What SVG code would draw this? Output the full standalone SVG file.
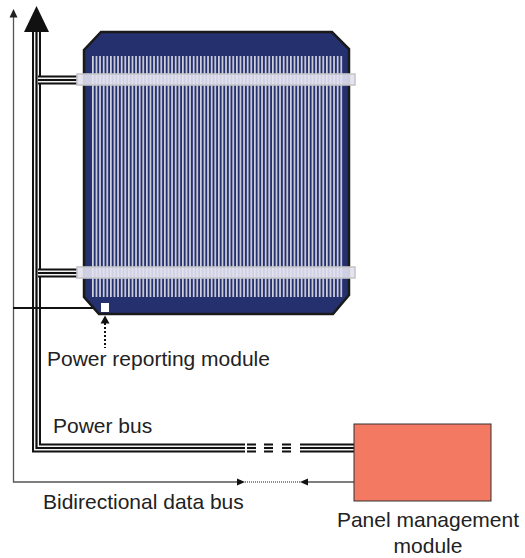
<svg xmlns="http://www.w3.org/2000/svg" width="525" height="558" viewBox="0 0 525 558">
  <defs>
    <style>
      .lbl { font-family: "Liberation Sans", Arial, sans-serif; font-size: 21px; fill: #222; }
      .busOuter { fill: none; stroke: #111; stroke-width: 9; stroke-linejoin: miter; }
      .busGap { fill: none; stroke: #f4f4f4; stroke-width: 5; stroke-linejoin: miter; }
      .busCore { fill: none; stroke: #111; stroke-width: 2.2; stroke-linejoin: miter; }
      .thin { fill: none; stroke: #555; stroke-width: 1.3; }
      .busbar { fill: #e2e2f0; fill-opacity: 0.9; stroke: #c6c6ca; stroke-width: 1.6; }
    </style>
    <pattern id="fingers" x="92" y="0" width="3.6" height="10" patternUnits="userSpaceOnUse">
      <rect x="0" y="0" width="1.7" height="10" fill="#d0d1dc"/>
    </pattern>
  </defs>

  <rect width="525" height="558" fill="#ffffff"/>

  <!-- connectors -->
  <g id="connectors">
    <!-- bidirectional data bus (thin line up the left side) -->
    <path class="thin" d="M13.5,16 V482 H238"/>
    <polygon points="9.5,17.5 17.5,17.5 13.5,9" fill="#222"/>
    <polygon points="237,478.5 237,485.5 245,482" fill="#111"/>
    <line x1="245" y1="482" x2="300" y2="482" stroke="#666" stroke-width="1.3" stroke-dasharray="1 1"/>
    <polygon points="308,478.5 308,485.5 300,482" fill="#111"/>
    <line class="thin" x1="308" y1="482" x2="354" y2="482"/>

    <!-- power bus: vertical trunk and run to the management module -->
    <path class="busOuter" d="M36.5,32 V448 H245"/>
    <path class="busGap" d="M36.5,32 V448 H245"/>
    <path class="busCore" d="M36.5,32 V448 H245"/>
    <polygon points="24,32 49,32 36.5,6" fill="#111"/>

    <!-- broken section of the power bus -->
    <g>
      <path class="busOuter" d="M247,448 H256 M264,448 H273 M282,448 H291 M300,448 H354"/>
      <path class="busGap" d="M247,448 H256 M264,448 H273 M282,448 H291 M300,448 H354"/>
      <path class="busCore" d="M247,448 H256 M264,448 H273 M282,448 H291 M300,448 H354"/>
    </g>

    <!-- taps from the trunk to the two busbars -->
    <path class="busOuter" d="M38,80 H78 M38,273 H78"/>
    <path class="busGap" d="M38,80 H78 M38,273 H78"/>
    <path class="busCore" d="M38,80 H78 M38,273 H78"/>

    <!-- reporting line -->
    <line x1="13" y1="308" x2="93" y2="308" stroke="#111" stroke-width="2"/>

    <!-- dotted pointer to the reporting module -->
    <line x1="105" y1="323" x2="105" y2="348" stroke="#111" stroke-width="2" stroke-dasharray="2 2"/>
    <polygon points="100.5,323.5 109.5,323.5 105,315.5" fill="#111"/>
  </g>

  <!-- solar cell -->
  <g id="solar-cell">
    <path d="M101,32 H332 L349,49 V295 L333,314 H99 L84,297 V50 Z" fill="#25306f" stroke="#1a1a1a" stroke-width="2.5"/>
    <rect x="92" y="56" width="251" height="241" fill="url(#fingers)"/>
    <rect class="busbar" x="77" y="74" width="278" height="11"/>
    <rect class="busbar" x="77" y="267" width="278" height="11"/>
  </g>

  <!-- power reporting module -->
  <g id="power-reporting-module">
    <rect x="101" y="303" width="8" height="9" fill="#ffffff"/>
    <text class="lbl" x="47" y="366">Power reporting module</text>
  </g>

  <!-- power bus label -->
  <g id="power-bus-label">
    <text class="lbl" x="53" y="433">Power bus</text>
  </g>

  <!-- data bus label -->
  <g id="data-bus-label">
    <text class="lbl" x="43" y="509">Bidirectional data bus</text>
  </g>

  <!-- panel management module -->
  <g id="panel-management-module">
    <rect x="354" y="424" width="137" height="77" fill="#f47962" stroke="#333" stroke-width="1"/>
    <text class="lbl" x="428" y="527" text-anchor="middle">Panel management</text>
    <text class="lbl" x="428" y="553" text-anchor="middle">module</text>
  </g>
</svg>
